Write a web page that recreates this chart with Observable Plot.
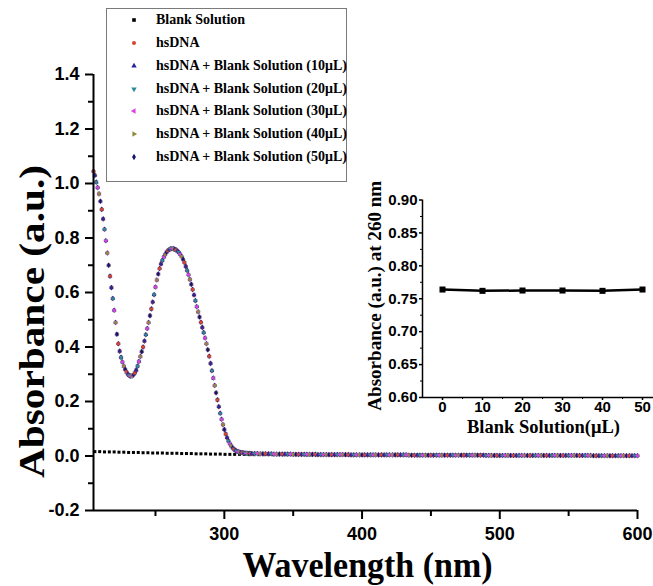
<!DOCTYPE html>
<html><head><meta charset="utf-8">
<script src="https://cdn.jsdelivr.net/npm/d3@7"></script>
<script src="https://cdn.jsdelivr.net/npm/@observablehq/plot@0.6"></script>
<style>
html,body{margin:0;padding:0;background:#fff;}
#wrap{position:relative;width:653px;height:586px;overflow:hidden;background:#fff;}
#legend{position:absolute;left:106px;top:8px;width:241px;height:174px;border:1px solid #7a7a7a;box-sizing:border-box;background:#fff;font-family:"Liberation Serif","Times New Roman",serif;font-weight:bold;font-size:14px;color:#000;}
.row{position:absolute;left:0;height:20px;line-height:20px;white-space:nowrap;}
.row svg{position:absolute;left:21px;top:4px;}
.row span{position:absolute;left:49px;top:0;}
</style></head><body><div id="wrap"><div id="legend"></div></div>
<script>
// ---------- data ----------
const seriesNames = ["Blank Solution", "hsDNA",
  "hsDNA + Blank Solution (10μL)", "hsDNA + Blank Solution (20μL)",
  "hsDNA + Blank Solution (30μL)", "hsDNA + Blank Solution (40μL)",
  "hsDNA + Blank Solution (50μL)"];
const seriesColors = ["#000000", "#d8452e", "#27279a", "#2f8a96", "#e040e0", "#8f8a3a", "#14146e"];

// hsDNA wavelengths: 1 nm 205–320, 2 nm 322–600
const hsWavelengths = d3.range(205, 321, 1).concat(d3.range(322, 601, 2));
// absorbance (all six hsDNA traces coincide)
const hsdnaAbs = [
  1.045,1.030,1.005,0.985,0.962,0.935,0.905,0.870,0.832,0.790,
  0.745,0.700,0.660,0.618,0.578,0.535,0.490,0.447,0.412,0.385,
  0.362,0.345,0.330,0.318,0.308,0.300,0.295,0.293,0.294,0.298,
  0.305,0.315,0.330,0.347,0.365,0.383,0.400,0.422,0.445,0.468,
  0.490,0.515,0.540,0.565,0.592,0.620,0.646,0.668,0.688,0.705,
  0.718,0.730,0.740,0.748,0.754,0.758,0.760,0.761,0.760,0.759,
  0.756,0.752,0.747,0.740,0.732,0.722,0.710,0.696,0.681,0.665,
  0.648,0.630,0.611,0.591,0.570,0.548,0.529,0.510,0.491,0.472,
  0.453,0.433,0.412,0.390,0.366,0.340,0.313,0.286,0.259,0.232,
  0.206,0.181,0.157,0.135,0.115,0.097,0.081,0.067,0.055,0.045,
  0.037,0.030,0.025,0.021,0.018,0.016,0.014,0.013,0.012,0.011,
  0.011,0.010,0.010,0.010,0.009,0.009,
  0.009,0.009,0.008,0.008,0.008,0.008,0.008,0.007,0.007,0.007,
  0.007,0.007,0.007,0.007,0.006,0.006,0.006,0.006,0.006,0.006,
  0.006,0.006,0.006,0.005,0.005,0.005,0.005,0.005,0.005,0.005,
  0.005,0.005,0.005,0.005,0.005,0.004,0.004,0.004,0.004,0.004,
  0.004,0.004,0.004,0.004,0.004,0.004,0.004,0.004,0.004,0.004,
  0.004,0.004,0.004,0.004,0.004,0.004,0.003,0.003,0.003,0.003,
  0.003,0.003,0.003,0.003,0.003,0.003,0.003,0.003,0.003,0.003,
  0.003,0.003,0.003,0.003,0.003,0.003,0.003,0.003,0.003,0.003,
  0.003,0.003,0.003,0.003,0.002,0.002,0.002,0.002,0.002,0.002,
  0.002,0.002,0.002,0.002,0.002,0.002,0.002,0.002,0.002,0.002,
  0.002,0.002,0.002,0.002,0.002,0.002,0.002,0.002,0.002,0.002,
  0.002,0.002,0.002,0.002,0.002,0.002,0.002,0.002,0.002,0.002,
  0.002,0.002,0.002,0.001,0.001,0.001,0.001,0.001,0.001,0.001,
  0.001,0.001,0.001,0.001,0.001,0.001,0.001,0.001,0.001,0.001
];
const hsSeriesValues = [hsdnaAbs, hsdnaAbs, hsdnaAbs, hsdnaAbs, hsdnaAbs, hsdnaAbs];

const blankWavelengths = d3.range(206, 600, 3.5);
const blankAbs = [
  0.016,0.016,0.015,0.015,0.015,0.014,0.014,0.013,0.013,0.013,
  0.012,0.012,0.011,0.011,0.011,0.010,0.010,0.010,0.009,0.009,
  0.009,0.008,0.008,0.008,0.007,0.007,0.007,0.006,0.006,0.006,
  0.006,0.006,0.005,0.005,0.005,0.005,0.005,0.005,0.005,0.005,
  0.005,0.005,0.005,0.005,0.004,0.004,0.004,0.004,0.004,0.004,
  0.004,0.004,0.004,0.004,0.004,0.004,0.004,0.004,0.004,0.004,
  0.004,0.004,0.004,0.003,0.003,0.003,0.003,0.003,0.003,0.003,
  0.003,0.003,0.003,0.003,0.003,0.003,0.003,0.003,0.003,0.003,
  0.003,0.003,0.003,0.003,0.002,0.002,0.002,0.002,0.002,0.002,
  0.002,0.002,0.002,0.002,0.002,0.002,0.002,0.002,0.002,0.002,
  0.002,0.002,0.002,0.002,0.002,0.002,0.001,0.001,0.001,0.001,
  0.001,0.001,0.001
];

const xDomain = [205, 600];
const yDomain = [-0.2, 1.4];
const xMajor = [300, 400, 500, 600];
const xMinor = [250, 350, 450, 550];
const yMajor = [-0.2, 0.0, 0.2, 0.4, 0.6, 0.8, 1.0, 1.2, 1.4];
const yMinor = [-0.1, 0.1, 0.3, 0.5, 0.7, 0.9, 1.1, 1.3];

// inset
const insetVolumes = [0, 10, 20, 30, 40, 50];
const insetAbs260 = [0.764, 0.762, 0.7625, 0.7625, 0.762, 0.764];
const insetXDomain = [-5, 52.75];
const insetYDomain = [0.60, 0.90];
const insetXTicks = [0, 10, 20, 30, 40, 50];
const insetXMinor = [5, 15, 25, 35, 45];
const insetYTicks = [0.60, 0.65, 0.70, 0.75, 0.80, 0.85, 0.90];
const insetYMinor = [0.625, 0.675, 0.725, 0.775, 0.825, 0.875];

// ---------- symbols ----------
const tri = (deg) => ({draw(ctx, size) {
  const R = Math.sqrt(4 * size / (3 * Math.sqrt(3)));
  for (let i = 0; i < 3; i++) {
    const a = (deg + 120 * i) * Math.PI / 180;
    const px = R * Math.cos(a), py = R * Math.sin(a);
    if (i) ctx.lineTo(px, py); else ctx.moveTo(px, py);
  }
  ctx.closePath();
}});
const seriesSymbols = ["square", "circle", tri(-90), tri(90), tri(180), tri(0), "diamond"];
const d3Symbols = [d3.symbolSquare, d3.symbolCircle, tri(-90), tri(90), tri(180), tri(0), d3.symbolDiamond];

// ---------- rows ----------
const blankRows = blankWavelengths.map((wl, i) => ({wl, a: blankAbs[i], series: seriesNames[0]}));
const hsRows = [];
hsWavelengths.forEach((wl, k) => {
  for (let j = 0; j < 6; j++) {
    const s = (k + j + 1) % 6;  // rotate drawing order so each trace shows through
    hsRows.push({wl, a: hsSeriesValues[s][k], series: seriesNames[s + 1]});
  }
});
const insetRows = insetVolumes.map((v, i) => ({v, a: insetAbs260[i]}));

const serif = "Liberation Serif, Times New Roman, serif";
const sans = "Liberation Sans, Arial, sans-serif";

// ---------- main plot ----------
const main = Plot.plot({
  width: 653, height: 586,
  marginLeft: 93, marginRight: 16, marginTop: 74, marginBottom: 76,
  x: {domain: xDomain},
  y: {domain: yDomain},
  color: {domain: seriesNames, range: seriesColors},
  symbol: {domain: seriesNames, range: seriesSymbols},
  style: {fontFamily: sans, fontWeight: "bold", color: "#000", background: "transparent", overflow: "visible"},
  marks: [
    Plot.dot(blankRows, {x: "wl", y: "a", symbol: "square", fill: "#000", r: 1.7}),
    Plot.dot(hsRows, {x: "wl", y: "a", fill: "series", symbol: "series", r: 1.7}),
    Plot.ruleX([xDomain[0]], {y1: yDomain[0], y2: yDomain[1], strokeWidth: 2}),
    Plot.ruleY([yDomain[0]], {x1: xDomain[0], x2: xDomain[1], strokeWidth: 2}),
    Plot.axisX({ticks: xMajor, tickSize: 9, tickPadding: 8, strokeWidth: 2, fontSize: 18, fontWeight: "bold", label: null}),
    Plot.axisX({ticks: xMinor, tickSize: 6, strokeWidth: 2, tickFormat: () => "", label: null}),
    Plot.axisY({ticks: yMajor, tickSize: 8, tickPadding: 6, strokeWidth: 2, fontSize: 18, fontWeight: "bold", tickFormat: d => d.toFixed(1), label: null}),
    Plot.axisY({ticks: yMinor, tickSize: 5, strokeWidth: 2, tickFormat: () => "", label: null}),
    Plot.text(["Absorbance (a.u.)"], {frameAnchor: "left", rotate: -90, dx: -50, dy: 29, textAnchor: "middle", lineAnchor: "bottom", fontSize: 36, fontFamily: serif, fontWeight: "bold"}),
    Plot.text(["Wavelength (nm)"], {frameAnchor: "bottom", dx: 2, dy: 66, textAnchor: "middle", lineAnchor: "bottom", fontSize: 36, fontFamily: serif, fontWeight: "bold"})
  ]
});
main.style.position = "absolute"; main.style.left = "0px"; main.style.top = "0px";

// ---------- inset ----------
const inset = Plot.plot({
  width: 298, height: 250,
  marginLeft: 67, marginRight: 0, marginTop: 19.5, marginBottom: 33,
  x: {domain: insetXDomain},
  y: {domain: insetYDomain},
  style: {fontFamily: sans, fontWeight: "bold", color: "#000", background: "transparent", overflow: "visible"},
  marks: [
    Plot.ruleX([insetXDomain[0]], {y1: insetYDomain[0], y2: insetYDomain[1], strokeWidth: 1.5}),
    Plot.ruleY([insetYDomain[0]], {x1: insetXDomain[0], x2: insetXDomain[1], strokeWidth: 1.5}),
    Plot.axisY({ticks: insetYTicks, tickSize: 3, tickPadding: 2, strokeWidth: 1.5, fontSize: 15, fontWeight: "bold", tickFormat: d => d.toFixed(2), label: null}),
    Plot.axisY({ticks: insetYMinor, tickSize: 2, strokeWidth: 1, tickFormat: () => "", label: null}),
    Plot.axisX({ticks: insetXTicks, tickSize: 3, tickPadding: 1, strokeWidth: 1.5, fontSize: 15, fontWeight: "bold", label: null}),
    Plot.axisX({ticks: insetXMinor, tickSize: 2, strokeWidth: 1, tickFormat: () => "", label: null}),
    Plot.line(insetRows, {x: "v", y: "a", stroke: "#000", strokeWidth: 2.5}),
    Plot.dot(insetRows, {x: "v", y: "a", symbol: "square", fill: "#000", r: 3.4}),
    Plot.text(["Absorbance (a.u.) at 260 nm"], {frameAnchor: "left", rotate: -90, dx: -42, dy: -3, textAnchor: "middle", lineAnchor: "bottom", fontSize: 19, fontFamily: serif, fontWeight: "bold"}),
    Plot.text(["Blank Solution(μL)"], {frameAnchor: "bottom", dx: 5.5, dy: 35, textAnchor: "middle", lineAnchor: "bottom", fontSize: 18, fontFamily: serif, fontWeight: "bold"})
  ]
});
inset.style.position = "absolute"; inset.style.left = "355px"; inset.style.top = "180px";

const wrap = document.getElementById("wrap");
wrap.insertBefore(main, wrap.firstChild);
wrap.insertBefore(inset, document.getElementById("legend"));

// stretch the serif titles to the reference's lengths
function fit(svg, txt, len) {
  d3.select(svg).selectAll("text").filter(function () { return this.textContent === txt; })
    .attr("textLength", len).attr("lengthAdjust", "spacingAndGlyphs");
}
fit(main, "Absorbance (a.u.)", 313);
fit(main, "Wavelength (nm)", 250);
fit(inset, "Absorbance (a.u.) at 260 nm", 230);
fit(inset, "Blank Solution(μL)", 153);

// ---------- legend ----------
const legend = d3.select("#legend");
seriesNames.forEach((name, i) => {
  const row = legend.append("div").attr("class", "row").style("top", (12.3 + i * 22.75 - 1 - 10) + "px");
  const s = row.append("svg").attr("width", 12).attr("height", 12);
  s.append("path").attr("transform", "translate(6,6)")
    .attr("d", d3.symbol().type(d3Symbols[i]).size(13)())
    .attr("fill", seriesColors[i]);
  row.append("span").text(name);
});
</script></body></html>
